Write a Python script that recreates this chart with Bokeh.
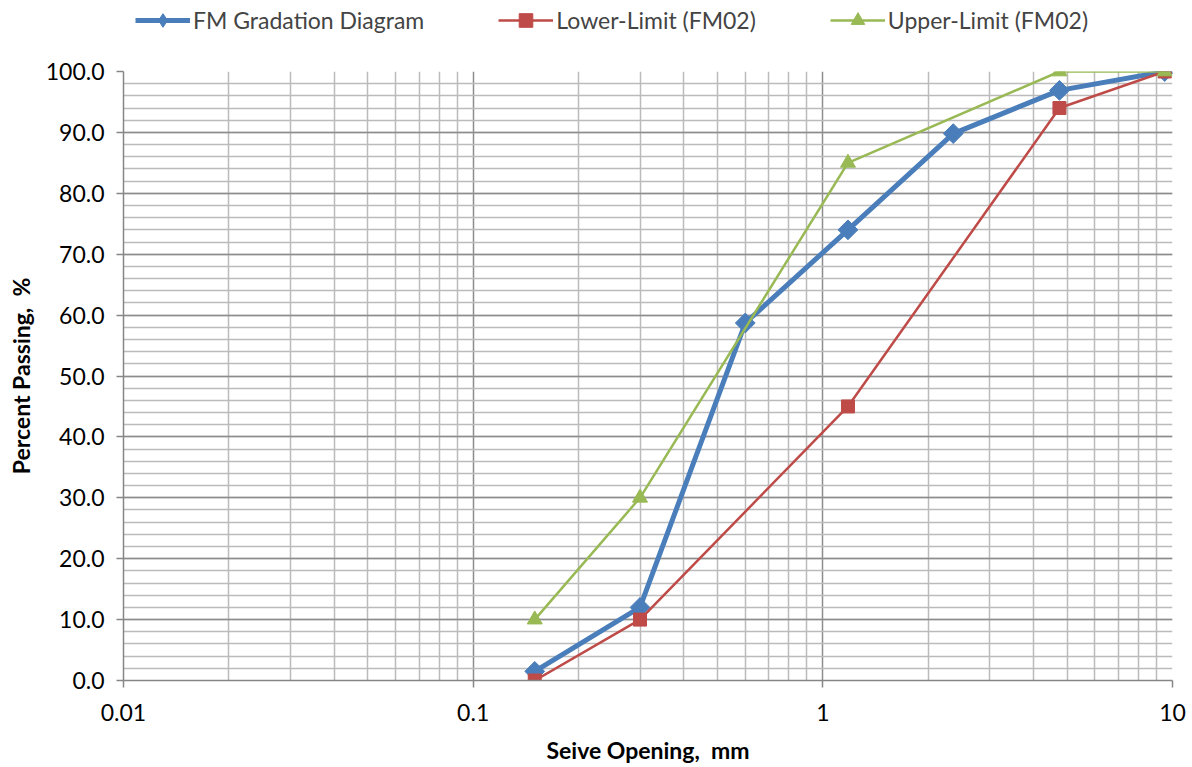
import math
from bokeh.plotting import figure
from bokeh.layouts import column
from bokeh.models import (Range1d, FixedTicker, CustomJSTickFormatter, NumeralTickFormatter,
                          Legend, LegendItem)
from bokeh.embed import file_html
from bokeh.resources import INLINE

# data
fm_size = [0.15, 0.3, 0.6, 1.18, 2.36, 4.75, 9.5]
fm_pass = [1.5, 12.0, 58.7, 74.0, 89.8, 96.9, 100.0]
low_size = [0.15, 0.3, 1.18, 4.75, 9.5]
low_pass = [0.0, 10.0, 45.0, 94.0, 100.0]
up_size = [0.15, 0.3, 1.18, 4.75, 9.5]
up_pass = [10.0, 30.0, 85.0, 100.0, 100.0]
series_names = ["FM Gradation Diagram", "Lower-Limit (FM02)", "Upper-Limit (FM02)"]

x_major = [0.01, 0.1, 1, 10]
x_minor = [m * d for d in [0.01, 0.1, 1] for m in range(2, 10)]
y_major = list(range(0, 101, 10))
y_minor = list(range(0, 101, 2))

FONT = "Lato"
BLUE = "#4A7EBB"
RED = "#BE4B48"
GREEN = "#98B954"

LEG_H = 54
p = figure(width=1192, height=767 - LEG_H, x_axis_type="log", output_backend="svg",
           toolbar_location=None, x_range=Range1d(0.01, 10), y_range=Range1d(0, 100),
           min_border_left=123, min_border_right=20, min_border_top=71 - LEG_H,
           min_border_bottom=87)
p.outline_line_color = None
p.background_fill_color = "white"

p.xaxis.ticker = FixedTicker(ticks=x_major, minor_ticks=x_minor)
p.yaxis.ticker = FixedTicker(ticks=y_major, minor_ticks=y_minor)
p.xaxis.formatter = CustomJSTickFormatter(code="return tick.toString();")
p.yaxis.formatter = NumeralTickFormatter(format="0.0")

for ax in (p.xaxis[0], p.yaxis[0]):
    ax.axis_line_color = "#868686"
    ax.axis_line_width = 1.5
    ax.major_tick_line_color = "#868686"
    ax.major_tick_line_width = 1.5
    ax.major_tick_out = 7
    ax.major_tick_in = 0
    ax.minor_tick_line_color = None
    ax.major_label_text_font = FONT
    ax.major_label_text_font_size = "23px"
    ax.major_label_text_color = "#000000"
    ax.axis_label_text_font = FONT
    ax.axis_label_text_font_style = "bold"
    ax.axis_label_text_font_size = "23px"
    ax.axis_label_text_color = "#000000"

p.xaxis.axis_label = "Seive Opening,\u00a0 mm"
p.yaxis.axis_label = "Percent Passing,\u00a0 %"
p.xaxis.major_label_standoff = 16
p.xaxis.axis_label_standoff = 12
p.yaxis.major_label_standoff = 12
p.yaxis.axis_label_standoff = 8

for g in (p.xgrid[0], p.ygrid[0]):
    g.grid_line_color = "#8C8C8C"
    g.grid_line_width = 1.5
    g.minor_grid_line_color = "#BBBBBB"
    g.minor_grid_line_width = 1.5

styles = [
    dict(color=BLUE, lw=5, marker="square", size=14, angle=math.pi / 4, leg_marker="diamond"),
    dict(color=RED, lw=2.5, marker="square", size=13, angle=0.0, leg_marker="square"),
    dict(color=GREEN, lw=2.5, marker="triangle", size=15, angle=0.0, leg_marker="triangle"),
]
data = [(fm_size, fm_pass), (low_size, low_pass), (up_size, up_pass)]
for (xs, ys), st in zip(data, styles):
    p.line(xs, ys, line_color=st["color"], line_width=st["lw"])
    p.scatter(xs, ys, marker=st["marker"], size=st["size"], angle=st["angle"],
              fill_color=st["color"], line_color=st["color"])

# legend strip on top (its renderers hold the same data, but lie outside its view)
lg = figure(width=1192, height=LEG_H, output_backend="svg", toolbar_location=None,
            x_axis_location=None, y_axis_location=None, min_border=0,
            x_range=Range1d(0, 1), y_range=Range1d(500, 600))
lg.outline_line_color = None
lg.xgrid.visible = False
lg.ygrid.visible = False
items = []
for name, (xs, ys), st in zip(series_names, data, styles):
    r1 = lg.line(xs, ys, line_color=st["color"], line_width=st["lw"])
    r2 = lg.scatter(xs, ys, marker=st["leg_marker"], size=st["size"],
                    fill_color=st["color"], line_color=st["color"])
    items.append(LegendItem(label=name, renderers=[r1, r2], index=0))
legend = Legend(items=items, orientation="horizontal", location=(12, 17),
                border_line_color=None, background_fill_alpha=0, label_text_font=FONT,
                label_text_font_size="23px", glyph_width=55, glyph_height=34,
                label_standoff=3, spacing=74, padding=0, margin=0)
lg.add_layout(legend, "center")

open("out.html", "w").write(file_html(column(lg, p, spacing=0), INLINE))
